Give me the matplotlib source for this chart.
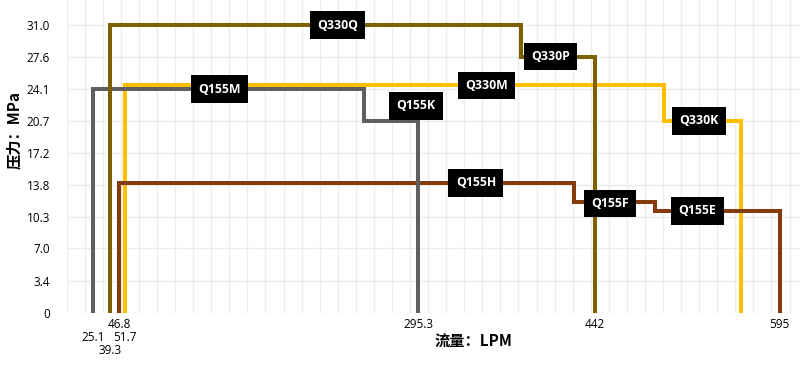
import matplotlib
matplotlib.use('Agg')
import matplotlib.pyplot as plt
import numpy as np

plt.rcParams['font.family'] = ['Open Sans', 'DejaVu Sans']

# pressure ticks (MPa) and flow ticks (LPM)
y_ticks = [0, 3.4, 7.0, 10.3, 13.8, 17.2, 20.7, 24.1, 27.6, 31.0]
x_ticks = [25.1, 39.3, 46.8, 51.7, 295.3, 442, 595]
x_tick_rows = [1, 2, 0, 1, 0, 0, 0]

# each pump curve: flow break points and pressure levels between them
gray_flow = [25.1, 250, 295.3]
gray_press = [24.1, 20.7]
olive_flow = [39.3, 380, 442]
olive_press = [31.0, 27.6]
yellow_flow = [51.7, 499, 563]
yellow_press = [24.5, 20.7]
brown_flow = [46.8, 424, 492, 595]
brown_press = [14.0, 12.0, 11.0]

label_names = ['Q155M', 'Q155K', 'Q330Q', 'Q330P', 'Q330M', 'Q330K', 'Q155H', 'Q155F', 'Q155E']
label_x = [130, 293, 228, 405, 352, 528, 343, 454, 527]
label_y = [24.1, 22.3, 31.0, 27.6, 24.5, 20.7, 14.0, 11.8, 11.0]


def step_path(flow, press):
    xs = [flow[0]]
    ys = [0]
    for i, p in enumerate(press):
        xs += [flow[i], flow[i + 1]]
        ys += [p, p]
    xs.append(flow[-1])
    ys.append(0)
    return xs, ys


fig = plt.figure(figsize=(8.02, 3.65), dpi=100)
ax = fig.add_axes([66.7 / 802, 1 - 313 / 365, (800 - 66.7) / 802, 313 / 365])
ax.set_xlim(3.3, 612)
ax.set_ylim(0, 33.7)

# grid
for gx in np.arange(3.3, 612, 15):
    ax.axvline(gx, color='#ececec', lw=1, zorder=0)
for gy in y_ticks:
    ax.axhline(gy, color='#ececec', lw=1, zorder=0)

curves = [
    (yellow_flow, yellow_press, '#FFC000'),
    (brown_flow, brown_press, '#843C0C'),
    (gray_flow, gray_press, '#5F5F5F'),
    (olive_flow, olive_press, '#7F6000'),
]
for flow, press, color in curves:
    xs, ys = step_path(flow, press)
    ax.plot(xs, ys, color=color, lw=2.9, solid_joinstyle='miter', zorder=2)

for name, lx, ly in zip(label_names, label_x, label_y):
    ax.text(lx, ly, name, ha='center', va='center', color='white', fontsize=8.8,
            fontweight='bold', zorder=5,
            bbox=dict(boxstyle='square,pad=0.6', fc='black', ec='none'))

ax.set_yticks(y_ticks)
ax.set_yticklabels([('0' if v == 0 else f'{v:.1f}') for v in y_ticks], fontsize=8.5)
ax.set_xticks(x_ticks)
ax.set_xticklabels([])
ax.tick_params(length=0)
ax.tick_params(axis='y', pad=12)
for s in ax.spines.values():
    s.set_visible(False)

# staggered flow tick labels
for v, r in zip(x_ticks, x_tick_rows):
    ax.annotate(f'{v:g}', xy=(v, 0), xycoords=('data', 'axes fraction'),
                xytext=(0, -8 - r * 9.4), textcoords='offset points',
                ha='center', va='center', fontsize=8.5, annotation_clip=False)

fig.text(473 / 802, 1 - 342 / 365, '流量：LPM', ha='center', va='center',
         fontsize=11, fontweight='bold', family=['Noto Sans CJK SC', 'DejaVu Sans'])
fig.text(14 / 802, 1 - 130 / 365, '压力：MPa', ha='center', va='center', rotation=90,
         fontsize=11, fontweight='bold', family=['Noto Sans CJK SC', 'DejaVu Sans'])

fig.savefig('out.png', dpi=100)
